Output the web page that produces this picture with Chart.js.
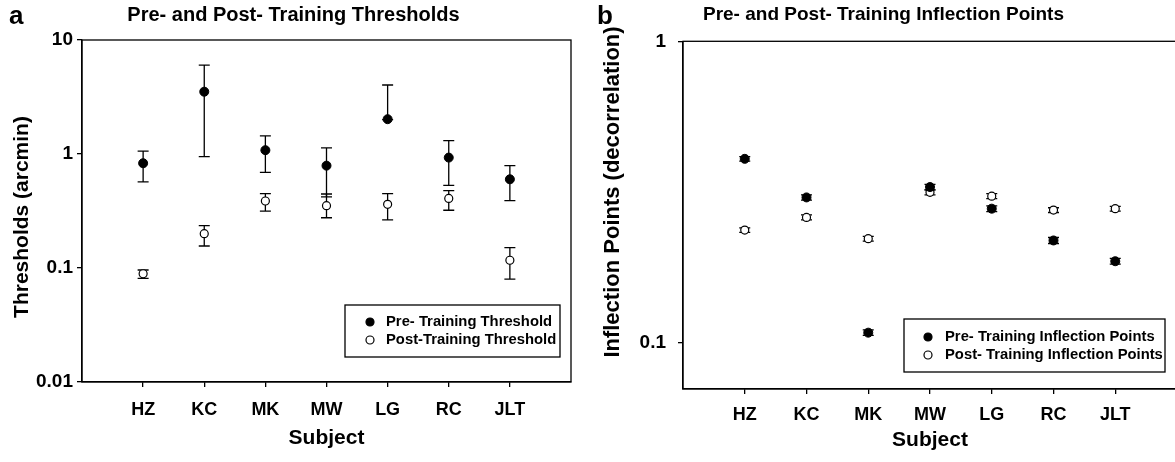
<!DOCTYPE html>
<html>
<head>
<meta charset="utf-8">
<script src="https://cdn.jsdelivr.net/npm/chart.js@4.4.0/dist/chart.umd.min.js"></script>
<style>
  body { margin: 0; background: #fff; width: 1175px; height: 462px; overflow: hidden; position: relative; }
  .panel { position: absolute; top: 0; height: 462px; }
  #panelA { left: 0; width: 590px; }
  #panelB { left: 590px; width: 600px; }
  .letter { position: absolute; font-family: "Liberation Sans", Arial, sans-serif; font-weight: bold; font-size: 26px; line-height: 26px; color: #000; }
</style>
</head>
<body>
<div class="panel" id="panelA"><canvas id="chartA" width="590" height="462"></canvas></div>
<div class="panel" id="panelB"><canvas id="chartB" width="600" height="462"></canvas></div>
<div class="letter" style="left:9px; top:2px;">a</div>
<div class="letter" style="left:597px; top:2px;">b</div>
<script>
const subjects = ['HZ', 'KC', 'MK', 'MW', 'LG', 'RC', 'JLT'];

// panel a - thresholds (arcmin)
const preThreshold      = [0.83, 3.52, 1.08, 0.79, 2.02, 0.93, 0.60];
const preThresholdLow   = [0.57, 0.95, 0.69, 0.42, 2.00, 0.53, 0.39];
const preThresholdHigh  = [1.06, 6.03, 1.44, 1.13, 4.03, 1.31, 0.79];
const postThreshold     = [0.089, 0.20, 0.387, 0.352, 0.362, 0.408, 0.117];
const postThresholdLow  = [0.081, 0.156, 0.316, 0.276, 0.264, 0.321, 0.080];
const postThresholdHigh = [0.096, 0.235, 0.449, 0.446, 0.449, 0.477, 0.151];
const thresholdTicks = [0.01, 0.1, 1, 10];

// panel b - inflection points (decorrelation)
const preInflection      = [0.407, 0.303, 0.1077, 0.328, 0.278, 0.218, 0.186];
const preInflectionLow   = [0.400, 0.297, 0.1055, 0.321, 0.272, 0.213, 0.182];
const preInflectionHigh  = [0.414, 0.309, 0.1100, 0.335, 0.284, 0.223, 0.190];
const postInflection     = [0.236, 0.260, 0.221, 0.315, 0.306, 0.275, 0.278];
const postInflectionLow  = [0.232, 0.255, 0.217, 0.309, 0.300, 0.270, 0.273];
const postInflectionHigh = [0.240, 0.265, 0.225, 0.321, 0.312, 0.280, 0.283];
const inflectionTicks = [0.1, 1];

const FONT = '"Liberation Sans", Arial, Helvetica, sans-serif';

function points(values) {
    return values.map((v, i) => ({x: i + 1, y: v}));
}

// error bars drawn under the markers
const errorBars = {
    id: 'errorBars',
    beforeDatasetsDraw(chart) {
        const ctx = chart.ctx;
        const xs = chart.scales.x, ys = chart.scales.y;
        ctx.save();
        ctx.strokeStyle = '#000';
        ctx.lineWidth = 1.3;
        chart.data.datasets.forEach(ds => {
            ds.data.forEach((p, i) => {
                const px = xs.getPixelForValue(p.x);
                const top = ys.getPixelForValue(ds.high[i]);
                const bot = ys.getPixelForValue(ds.low[i]);
                ctx.beginPath();
                ctx.moveTo(px, top); ctx.lineTo(px, bot);
                ctx.moveTo(px - 5.5, top); ctx.lineTo(px + 5.5, top);
                ctx.moveTo(px - 5.5, bot); ctx.lineTo(px + 5.5, bot);
                ctx.stroke();
            });
        });
        ctx.restore();
    }
};

// closes the frame on top and right
const frame = {
    id: 'frame',
    beforeDatasetsDraw(chart) {
        const a = chart.chartArea, ctx = chart.ctx;
        ctx.save();
        ctx.strokeStyle = '#000';
        ctx.lineWidth = 1.3;
        ctx.strokeRect(a.left, a.top, a.right - a.left, a.bottom - a.top);
        ctx.restore();
    }
};

// rotated y axis title, placed where the original figure has it
const yTitle = {
    id: 'yTitle',
    afterDraw(chart, args, opts) {
        const ctx = chart.ctx;
        ctx.save();
        ctx.translate(opts.x, opts.y);
        ctx.rotate(-Math.PI / 2);
        ctx.font = 'bold ' + opts.fontSize + 'px ' + FONT;
        ctx.fillStyle = '#000';
        ctx.textAlign = 'center';
        ctx.textBaseline = 'middle';
        ctx.fillText(opts.text, 0, 0);
        ctx.restore();
    }
};

// boxed legend inside the plot
const boxLegend = {
    id: 'boxLegend',
    afterDatasetsDraw(chart, args, opts) {
        const ctx = chart.ctx;
        ctx.save();
        ctx.fillStyle = '#fff';
        ctx.fillRect(opts.left, opts.top, opts.width, opts.height);
        ctx.strokeStyle = '#000';
        ctx.lineWidth = 1.3;
        ctx.strokeRect(opts.left, opts.top, opts.width, opts.height);
        ctx.font = 'bold ' + opts.fontSize + 'px ' + FONT;
        ctx.textBaseline = 'middle';
        chart.data.datasets.forEach((ds, i) => {
            const y = opts.top + opts.firstRow + i * opts.rowGap;
            ctx.beginPath();
            ctx.arc(opts.left + opts.markerX, y, 4, 0, Math.PI * 2);
            ctx.fillStyle = ds.backgroundColor;
            ctx.fill();
            ctx.lineWidth = 1.2;
            ctx.strokeStyle = '#000';
            ctx.stroke();
            ctx.fillStyle = '#000';
            ctx.fillText(ds.label, opts.left + opts.textX, y);
        });
        ctx.restore();
    }
};

function buildOptions(o) {
    const scales = {
        x: {
            type: 'linear',
            min: 0,
            max: 8,
            afterBuildTicks: s => { s.ticks = subjects.map((_, i) => ({value: i + 1})); },
            afterFit: s => { s.height = o.xHeight; },
            ticks: {
                callback: v => subjects[v - 1],
                color: '#000',
                font: {family: FONT, size: 18, weight: 'bold'},
                padding: o.xTickPad,
                maxRotation: 0,
                autoSkip: false
            },
            grid: {display: true, drawOnChartArea: false, drawTicks: true, tickLength: 5, color: '#000', lineWidth: 1.3},
            border: {display: true, color: '#000', width: 1.3},
            title: {
                display: true,
                text: 'Subject',
                color: '#000',
                font: {family: FONT, size: 21, weight: 'bold'},
                padding: {top: 0, bottom: o.xTitleBottom}
            }
        },
        y: {
            type: 'logarithmic',
            min: o.yMin,
            max: o.yMax,
            afterBuildTicks: s => { s.ticks = o.yTicks.map(v => ({value: v})); },
            afterFit: s => { s.width = o.yWidth; },
            ticks: {
                callback: v => String(v),
                color: '#000',
                font: {family: FONT, size: 19, weight: 'bold'},
                padding: o.yTickPad
            },
            grid: {display: true, drawOnChartArea: false, drawTicks: true, tickLength: 5, color: '#000', lineWidth: 1.3},
            border: {display: true, color: '#000', width: 1.3}
        }
    };
    if (o.rightGap) {
        // empty right-hand axis, only to keep a margin right of the frame
        scales.yRight = {
            type: 'linear',
            position: 'right',
            display: true,
            ticks: {display: false},
            grid: {display: false},
            border: {display: false},
            afterFit: s => { s.width = o.rightGap; }
        };
    }
    return {
        responsive: false,
        animation: false,
        layout: {padding: {left: 0, right: o.padRight, top: 0, bottom: 0}},
        plugins: {
            legend: {display: false},
            tooltip: {enabled: false},
            title: {
                display: true,
                text: o.title,
                color: '#000',
                font: {family: FONT, size: o.titleSize, weight: 'bold'},
                padding: {top: o.titleTop, bottom: o.titleBottom}
            },
            yTitle: o.yTitle,
            boxLegend: o.legend
        },
        scales: scales
    };
}

function datasets(preLabel, pre, preLow, preHigh, postLabel, post, postLow, postHigh) {
    return [{
        label: preLabel,
        data: points(pre),
        low: preLow,
        high: preHigh,
        backgroundColor: '#000',
        borderColor: '#000',
        borderWidth: 1,
        pointRadius: 4.5,
        showLine: false
    }, {
        label: postLabel,
        data: points(post),
        low: postLow,
        high: postHigh,
        backgroundColor: '#fff',
        borderColor: '#000',
        borderWidth: 1.2,
        pointRadius: 4,
        showLine: false
    }];
}

new Chart(document.getElementById('chartA').getContext('2d'), {
    type: 'scatter',
    data: {
        datasets: datasets('Pre- Training Threshold', preThreshold, preThresholdLow, preThresholdHigh,
            'Post-Training Threshold', postThreshold, postThresholdLow, postThresholdHigh)
    },
    options: buildOptions({
        title: 'Pre- and Post- Training Thresholds',
        titleSize: 20, titleTop: 3, titleBottom: 13,
        padRight: 3, rightGap: 16,
        xHeight: 80, xTickPad: 12, xTitleBottom: 11,
        yWidth: 82, yTickPad: 4,
        yMin: 0.01, yMax: 10, yTicks: thresholdTicks,
        yTitle: {text: 'Thresholds (arcmin)', x: 22, y: 217, fontSize: 21},
        legend: {left: 345, top: 305, width: 215, height: 52, firstRow: 17, rowGap: 18, markerX: 25, textX: 41, fontSize: 14.8}
    }),
    plugins: [errorBars, frame, boxLegend, yTitle]
});

new Chart(document.getElementById('chartB').getContext('2d'), {
    type: 'scatter',
    data: {
        datasets: datasets('Pre- Training Inflection Points', preInflection, preInflectionLow, preInflectionHigh,
            'Post- Training Inflection Points', postInflection, postInflectionLow, postInflectionHigh)
    },
    options: buildOptions({
        title: 'Pre- and Post- Training Inflection Points',
        titleSize: 19, titleTop: 3, titleBottom: 15.5,
        padRight: 13,
        xHeight: 73, xTickPad: 10, xTitleBottom: 9.5,
        yWidth: 93, yTickPad: 12,
        yMin: 0.07, yMax: 1, yTicks: inflectionTicks,
        yTitle: {text: 'Inflection Points (decorrelation)', x: 23, y: 192, fontSize: 22},
        legend: {left: 314, top: 319, width: 261, height: 53, firstRow: 18, rowGap: 18, markerX: 24, textX: 41, fontSize: 14.8}
    }),
    plugins: [errorBars, frame, boxLegend, yTitle]
});
</script>
</body>
</html>
